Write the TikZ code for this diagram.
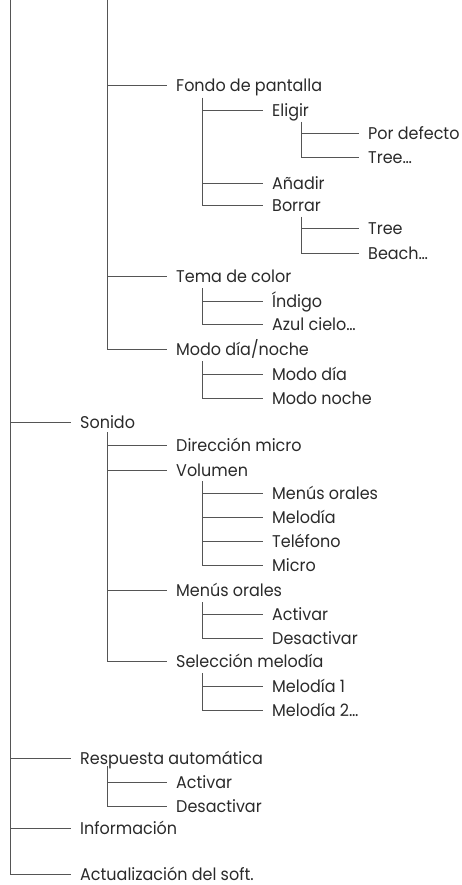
\documentclass[tikz,border=0pt]{standalone}
\usepackage{fontspec}
\setmainfont{Poppins}[FakeStretch=0.94]
\definecolor{txt}{HTML}{2A2A2A}
\definecolor{ln}{HTML}{555555}
\begin{document}
\begin{tikzpicture}[x=1pt,y=-1pt,
  item/.style={anchor=west,inner sep=0pt,text height=12.5pt,text depth=0pt,text=txt,font=\fontsize{17}{19}\selectfont},
  conn/.style={draw=ln,line width=0.9pt}]
\useasboundingbox (0,0) rectangle (461,885);
% spines
\coordinate (rootS) at (10,0);
\coordinate (topS) at (107,0);
% level 1 under top
\node[item] (fondo) at (176,85) {Fondo de pantalla};
\node[item] (tema) at (176,276) {Tema de color};
\node[item] (modo) at (176,349) {Modo día/noche};
\coordinate (fondoS) at (202,98);
\node[item] (eligir) at (272,110) {Eligir};
\node[item] (anadir) at (272,183) {Añadir};
\node[item] (borrar) at (272,205) {Borrar};
\coordinate (eligirS) at (301,122);
\node[item] (defecto) at (368,133) {Por defecto};
\node[item] (tree1) at (368,157) {Tree…};
\coordinate (borrarS) at (301,217);
\node[item] (tree2) at (368,228) {Tree};
\node[item] (beach) at (368,253) {Beach…};
\coordinate (temaS) at (202,288);
\node[item] (indigo) at (272,301) {Índigo};
\node[item] (azul) at (272,324) {Azul cielo…};
\coordinate (modoS) at (202,361);
\node[item] (dia) at (272,374) {Modo día};
\node[item] (noche) at (272,398) {Modo noche};
% level 0
\node[item] (sonido) at (80,422) {Sonido};
\node[item] (resp) at (80,758) {Respuesta automática};
\node[item] (info) at (80,828) {Información};
\node[item] (act) at (80,874) {Actualización del soft.};
\coordinate (sonidoS) at (107,432);
\node[item] (dir) at (176,445) {Dirección micro};
\node[item] (vol) at (176,470) {Volumen};
\node[item] (menus) at (176,590) {Menús orales};
\node[item] (sel) at (176,661) {Selección melodía};
\coordinate (volS) at (202,481);
\node[item] (vmenus) at (272,493) {Menús orales};
\node[item] (vmel) at (272,517) {Melodía};
\node[item] (vtel) at (272,541) {Teléfono};
\node[item] (vmic) at (272,565) {Micro};
\coordinate (menusS) at (202,602);
\node[item] (mact) at (272,614) {Activar};
\node[item] (mdes) at (272,638) {Desactivar};
\coordinate (selS) at (202,673);
\node[item] (mel1) at (272,686) {Melodía 1};
\node[item] (mel2) at (272,710) {Melodía 2…};
\coordinate (respS) at (107,766);
\node[item] (ract) at (176,782) {Activar};
\node[item] (rdes) at (176,806) {Desactivar};
% connectors
\foreach \s/\c in {rootS/sonido,rootS/resp,rootS/info,rootS/act,
  topS/fondo,topS/tema,topS/modo,
  fondoS/eligir,fondoS/anadir,fondoS/borrar,
  eligirS/defecto,eligirS/tree1,borrarS/tree2,borrarS/beach,
  temaS/indigo,temaS/azul,modoS/dia,modoS/noche,
  sonidoS/dir,sonidoS/vol,sonidoS/menus,sonidoS/sel,
  volS/vmenus,volS/vmel,volS/vtel,volS/vmic,
  menusS/mact,menusS/mdes,selS/mel1,selS/mel2,
  respS/ract,respS/rdes}
  \draw[conn] (\s) |- ([xshift=-9pt]\c.west);
\end{tikzpicture}
\end{document}
